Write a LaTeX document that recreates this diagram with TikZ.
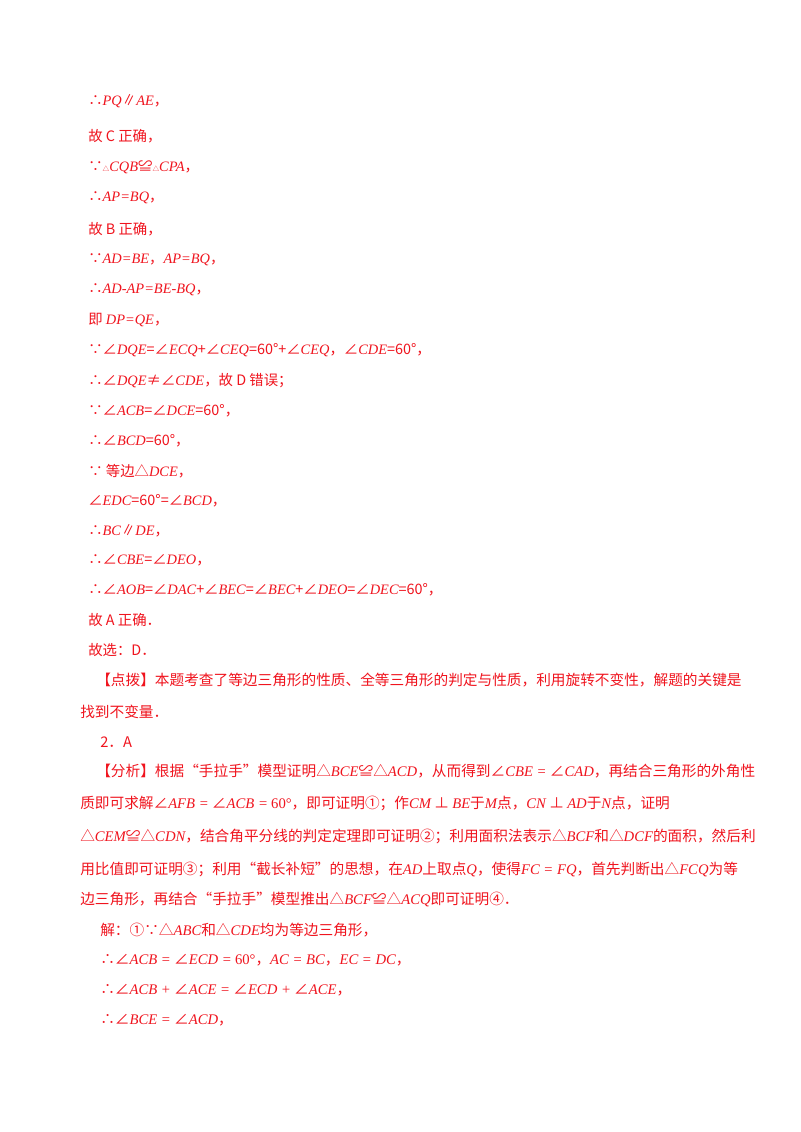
\documentclass[tikz,border=0pt]{standalone}
\usepackage{fontspec}
\setmainfont{Noto Sans CJK SC}
\newfontfamily\tm{Liberation Serif}
\definecolor{rd}{RGB}{240,20,30}
\newcommand{\mi}[1]{{\tm\itshape #1}}
\newcommand{\AG}{{\normalfont ∠}}
\newcommand{\TR}{{\normalfont △}}
\begin{document}
\begin{tikzpicture}[x=0.75pt,y=-0.75pt,
  ln/.style={anchor=west,inner sep=0pt,text=rd,font=\fontsize{10.8}{12}\selectfont},
  lb/.style={anchor=west,inner sep=0pt,text=rd,font=\fontsize{11}{13}\selectfont}]
\useasboundingbox[fill=white] (0,0) rectangle (800,1132);
\node[ln] (l1) at (88,101) {∴\mi{PQ}∥\mi{AE}，};
\node[ln] (l2) at (88,136) {故 C 正确，};
\node[ln] (l3) at (88,167) {∵{\tiny△}\mi{CQB}≌{\tiny△}\mi{CPA}，};
\node[ln] (l4) at (88,198) {∴\mi{AP=BQ}，};
\node[ln] (l5) at (88,229) {故 B 正确，};
\node[ln] (l6) at (88,260) {∵\mi{AD=BE}，\mi{AP=BQ}，};
\node[ln] (l7) at (88,290) {∴\mi{AD-AP=BE-BQ}，};
\node[ln] (l8) at (88,320) {即 \mi{DP=QE}，};
\node[ln] (l9) at (88,350) {∵∠\mi{DQE}=∠\mi{ECQ}+∠\mi{CEQ}=60°+∠\mi{CEQ}，∠\mi{CDE}=60°，};
\node[ln] (l10) at (88,381) {∴∠\mi{DQE}≠∠\mi{CDE}，故 D 错误；};
\node[ln] (l11) at (88,411) {∵∠\mi{ACB}=∠\mi{DCE}=60°，};
\node[ln] (l12) at (88,441) {∴∠\mi{BCD}=60°，};
\node[ln] (l13) at (88,471) {∵ 等边△\mi{DCE}，};
\node[ln] (l14) at (88,501) {∠\mi{EDC}=60°=∠\mi{BCD}，};
\node[ln] (l15) at (88,531) {∴\mi{BC}∥\mi{DE}，};
\node[ln] (l16) at (88,560) {∴∠\mi{CBE}=∠\mi{DEO}，};
\node[ln] (l17) at (88,590) {∴∠\mi{AOB}=∠\mi{DAC}+∠\mi{BEC}=∠\mi{BEC}+∠\mi{DEO}=∠\mi{DEC}=60°，};
\node[ln] (l18) at (88,620) {故 A 正确．};
\node[ln] (l19) at (88,650) {故选：D．};
\node[lb] (l20) at (96,680) {【点拨】本题考查了等边三角形的性质、全等三角形的判定与性质，利用旋转不变性，解题的关键是};
\node[lb] (l21) at (80,712) {找到不变量．};
\node[lb] (l22) at (100,742) {2．A};
\node[lb] (l23) at (96,771) {【分析】根据“手拉手”模型证明\TR\mi{BCE}≌\TR\mi{ACD}，从而得到\AG\mi{CBE =} \AG\mi{CAD}，再结合三角形的外角性};
\node[lb] (l24) at (80,803) {质即可求解\AG\mi{AFB =} \AG\mi{ACB =} {\tm 60°}，即可证明①；作\mi{CM} ⊥ \mi{BE}于\mi{M}点，\mi{CN} ⊥ \mi{AD}于\mi{N}点，证明};
\node[lb] (l25) at (80,836) {\TR\mi{CEM}≌\TR\mi{CDN}，结合角平分线的判定定理即可证明②；利用面积法表示△\mi{BCF}和\TR\mi{DCF}的面积，然后利};
\node[lb] (l26) at (80,869) {用比值即可证明③；利用“截长补短”的思想，在\mi{AD}上取点\mi{Q}，使得\mi{FC = FQ}，首先判断出\TR\mi{FCQ}为等};
\node[lb] (l27) at (80,899) {边三角形，再结合“手拉手”模型推出\TR\mi{BCF}≌\TR\mi{ACQ}即可证明④．};
\node[lb] (l28) at (100,930) {解：①∵\TR\mi{ABC}和\TR\mi{CDE}均为等边三角形，};
\node[lb] (l29) at (100,960) {∴\AG\mi{ACB =} \AG\mi{ECD =} {\tm 60°}，\mi{AC = BC}，\mi{EC = DC}，};
\node[lb] (l30) at (100,990) {∴\AG\mi{ACB +} \AG\mi{ACE =} \AG\mi{ECD +} \AG\mi{ACE}，};
\node[lb] (l31) at (100,1020) {∴\AG\mi{BCE =} \AG\mi{ACD}，};
\end{tikzpicture}
\end{document}
